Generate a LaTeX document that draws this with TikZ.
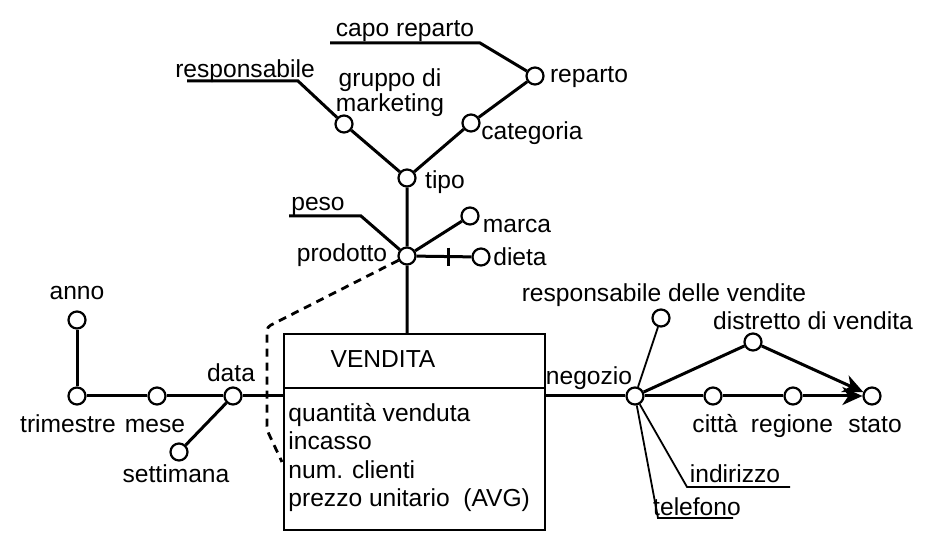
\documentclass[tikz,border=0pt]{standalone}
\usepackage{fontspec}
\setmainfont{Liberation Sans}
\usetikzlibrary{arrows.meta}

\tikzset{
  attr/.style={circle, draw, fill=white, line width=1.1pt, minimum size=8.5pt, inner sep=0pt},
  lbl/.style={inner sep=0pt, anchor=base, font=\fontsize{12.3}{12.5}\selectfont},
  hier/.style={line width=1.5pt},
  desc/.style={line width=0.9pt},
  toarrow/.style={hier, -{Stealth[length=10pt, width=9pt, inset=3pt]}}
}

\begin{document}
\begin{tikzpicture}[x=0.5pt, y=-0.5pt]
  \useasboundingbox (0,0) rectangle (926,550);

  % fatto
  \node[draw, line width=1.2pt, minimum width=130.5pt, minimum height=98pt,
        anchor=north west, inner sep=0pt] (vendita) at (283,333) {};
  \draw[line width=1.2pt] ([yshift=-27.5pt]vendita.north west) -- ([yshift=-27.5pt]vendita.north east);
  \node[lbl] (venditaT) at (383,368) {VENDITA};
  \node[lbl, anchor=base west] (m1) at (288,422) {quantità venduta};
  \node[lbl, anchor=base west] (m2) at (288,450) {incasso};
  \node[lbl, anchor=base west] (m3) at (288,478) {num. clienti};
  \node[lbl, anchor=base west] (m4) at (288,506) {prezzo unitario\ \ (AVG)};

  % data
  \node[attr] (anno) at (77,320) {};
  \node[attr] (trimestre) at (77,396) {};
  \node[attr] (mese) at (157,396) {};
  \node[attr] (data) at (233,396) {};
  \node[attr] (settimana) at (179,452) {};
  \node[lbl] (annoT) at (77,300) {anno};
  \node[lbl] (trimestreT) at (68,432) {trimestre};
  \node[lbl] (meseT) at (155,432) {mese};
  \node[lbl] (dataT) at (231,382) {data};
  \node[lbl] (settimanaT) at (176,482) {settimana};
  \draw[hier] (anno) -- (trimestre) -- (mese) -- (data) -- (data -| vendita.west);
  \draw[hier] (data) -- (settimana);

  % prodotto
  \node[attr] (prodotto) at (407,256) {};
  \node[attr] (tipo) at (407,178) {};
  \node[attr] (marca) at (470,216) {};
  \node[attr] (dieta) at (481,257) {};
  \node[attr] (gruppo) at (344,124) {};
  \node[attr] (categoria) at (471,123) {};
  \node[attr] (reparto) at (535,76) {};
  \coordinate (pesoK) at (361,216);
  \coordinate (pesoE) at (289,216);
  \coordinate (respK) at (298,81);
  \coordinate (respE) at (187,81);
  \coordinate (capoK) at (480,43);
  \coordinate (capoE) at (330,43);
  \node[lbl] (prodottoT) at (342,262) {prodotto};
  \node[lbl] (tipoT) at (445,189) {tipo};
  \node[lbl] (marcaT) at (517,233) {marca};
  \node[lbl] (dietaT) at (520,266) {dieta};
  \node[lbl] (pesoT) at (318,211) {peso};
  \node[lbl, anchor=center, align=center] (gruppoT) at (390,93) {gruppo di\\marketing};
  \node[lbl] (respT) at (245,78) {responsabile};
  \node[lbl] (categoriaT) at (532,140) {categoria};
  \node[lbl] (repartoT) at (589,83) {reparto};
  \node[lbl] (capoT) at (405,37) {capo reparto};
  \draw[hier] (vendita.north -| prodotto) -- (prodotto) -- (tipo) -- (gruppo) -- (respK) -- (respE);
  \draw[hier] (tipo) -- (categoria) -- (reparto) -- (capoK) -- (capoE);
  \draw[hier] (prodotto) -- (marca);
  \draw[hier] (prodotto) -- (dieta);
  \draw[hier] (prodotto) -- (pesoK) -- (pesoE);
  \path (prodotto) -- (dieta) coordinate[pos=0.58] (dietaTick);
  \draw[hier] ([yshift=4.5pt]dietaTick) -- ([yshift=-4.5pt]dietaTick);

  % attributo cross-dimensionale
  \coordinate (crossA) at (267,327);
  \coordinate (crossB) at (267,430);
  \coordinate (crossC) at (282,462);
  \draw[line width=1.4pt, dash pattern=on 4pt off 3pt, rounded corners=2pt]
    (prodotto) -- (crossA) -- (crossB) -- (crossC);

  % negozio
  \node[attr] (negozio) at (635,396) {};
  \node[attr] (respv) at (661,318) {};
  \node[attr] (distretto) at (753,342) {};
  \node[attr] (citta) at (713,396) {};
  \node[attr] (regione) at (793,396) {};
  \node[attr] (stato) at (872,396) {};
  \coordinate (indK) at (687,487);
  \coordinate (indE) at (790,487);
  \coordinate (telK) at (658,518);
  \coordinate (telE) at (733,518);
  \node[lbl] (negozioT) at (589,385) {negozio};
  \node[lbl] (respvT) at (664,302) {responsabile delle vendite};
  \node[lbl] (distrettoT) at (813,330) {distretto di vendita};
  \node[lbl] (cittaT) at (715,432) {città};
  \node[lbl] (regioneT) at (792,432) {regione};
  \node[lbl] (statoT) at (875,432) {stato};
  \node[lbl] (indT) at (735,482) {indirizzo};
  \node[lbl] (telT) at (697,515) {telefono};
  \draw[hier] (vendita.east |- negozio) -- (negozio) -- (citta) -- (regione);
  \draw[toarrow] (regione) -- (stato);
  \draw[hier] (negozio) -- (distretto);
  \draw[toarrow] (distretto) -- (stato);
  \draw[desc] (negozio) -- (respv);
  \draw[desc] (negozio) -- (indK) -- (indE);
  \draw[desc] (negozio) -- (telK) -- (telE);
\end{tikzpicture}
\end{document}
